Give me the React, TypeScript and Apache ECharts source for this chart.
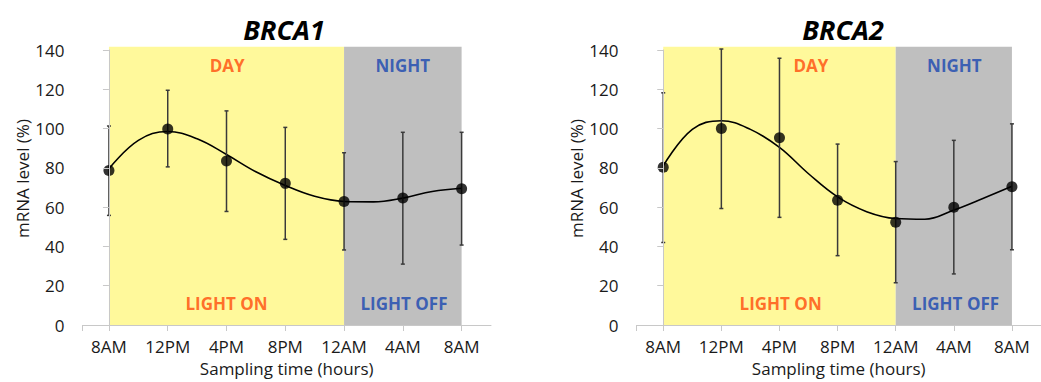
import React, { useEffect, useRef } from "react";
import * as echarts from "echarts";

const categories = ["8AM", "12PM", "4PM", "8PM", "12AM", "4AM", "8AM"];
const yTicks = [0, 20, 40, 60, 80, 100, 120, 140];

const brca1Mean = [78.6, 99.8, 83.5, 72.1, 62.9, 64.7, 69.4];
const brca1Low = [55.8, 80.5, 57.8, 43.6, 38.2, 31.0, 40.7];
const brca1High = [101.3, 119.5, 109.0, 100.6, 87.7, 98.1, 98.1];
const brca1TrendX = [0, 0.5, 1, 1.5, 2, 2.5, 3, 3.5, 4, 4.5, 5, 5.5, 6];
const brca1Trend = [79.6, 94.0, 98.5, 94.8, 86.8, 78.0, 71.0, 65.5, 62.9, 62.7, 64.6, 68.0, 69.6];

const brca2Mean = [80.3, 100.0, 95.3, 63.5, 52.3, 60.0, 70.4];
const brca2Low = [42.0, 59.3, 54.8, 35.3, 21.5, 26.0, 38.3];
const brca2High = [118.2, 140.5, 135.8, 92.1, 83.2, 94.0, 102.4];
const brca2TrendX = [0, 0.5, 1, 1.5, 2, 2.5, 3, 3.5, 4, 4.5, 5, 5.5, 6];
const brca2Trend = [81.0, 99.6, 104.0, 99.6, 90.4, 77.0, 65.2, 57.7, 54.2, 53.8, 58.5, 64.4, 70.6];

// background bands: [x start, x end, top value]
const bands = [
  [0, 4, 141.7],
  [4, 6, 141.7],
];
const bandColors = ["#fff99b", "#bfbfbf"];

const annots1 = [
  { text: "DAY", x: 2.01, y: 132.3, color: "#ff4a0a" },
  { text: "NIGHT", x: 5.0, y: 132.3, color: "#1846b0" },
  { text: "LIGHT ON", x: 2.0, y: 10.9, color: "#ff4a0a" },
  { text: "LIGHT OFF", x: 5.02, y: 10.9, color: "#1846b0" },
];
const annots2 = [
  { text: "DAY", x: 2.54, y: 132.3, color: "#ff4a0a" },
  { text: "NIGHT", x: 5.01, y: 132.3, color: "#1846b0" },
  { text: "LIGHT ON", x: 2.02, y: 10.9, color: "#ff4a0a" },
  { text: "LIGHT OFF", x: 5.03, y: 10.9, color: "#1846b0" },
];

const FONT = "'Open Sans', 'Noto Sans', sans-serif";
const TEXT = "#1a1a1a";
const AXIS = "#c8c8c8";

function buildChart(
  gi: number,
  mean: number[],
  low: number[],
  high: number[],
  trendX: number[],
  trend: number[],
  annots: { text: string; x: number; y: number; color: string }[]
) {
  const series: any[] = [];
  series.push({
    type: "custom",
    xAxisIndex: gi,
    yAxisIndex: gi,
    z: 1,
    silent: true,
    data: bands,
    renderItem: (params: any, api: any) => {
      const p0 = api.coord([api.value(0), 0]);
      const p1 = api.coord([api.value(1), api.value(2)]);
      return {
        type: "rect",
        shape: { x: p0[0], y: p1[1], width: p1[0] - p0[0], height: p0[1] - p1[1] },
        style: { fill: bandColors[params.dataIndex] },
      };
    },
  });
  series.push({
    type: "line",
    xAxisIndex: gi,
    yAxisIndex: gi,
    z: 3,
    smooth: 0.4,
    symbol: "none",
    lineStyle: { color: "#000", width: 1.6 },
    data: trendX.map((x, i) => [x, trend[i]]),
  });
  series.push({
    type: "custom",
    xAxisIndex: gi,
    yAxisIndex: gi,
    z: 4,
    data: mean.map((_, i) => [i, low[i], high[i]]),
    renderItem: (params: any, api: any) => {
      const x = api.value(0);
      const pTop = api.coord([x, api.value(2)]);
      const pBot = api.coord([x, api.value(1)]);
      const st = { stroke: "#3a3a3a", lineWidth: 1.5 };
      const cw = 2;
      return {
        type: "group",
        children: [
          { type: "line", shape: { x1: pTop[0], y1: pTop[1], x2: pBot[0], y2: pBot[1] }, style: st },
          { type: "line", shape: { x1: pTop[0] - cw, y1: pTop[1], x2: pTop[0] + cw, y2: pTop[1] }, style: st },
          { type: "line", shape: { x1: pBot[0] - cw, y1: pBot[1], x2: pBot[0] + cw, y2: pBot[1] }, style: st },
        ],
      };
    },
  });
  series.push({
    type: "scatter",
    xAxisIndex: gi,
    yAxisIndex: gi,
    z: 5,
    symbolSize: 11,
    itemStyle: { color: "#000" },
    data: mean.map((v, i) => [i, v]),
  });
  series.push({
    type: "scatter",
    xAxisIndex: gi,
    yAxisIndex: gi,
    z: 6,
    silent: true,
    symbolSize: 1,
    itemStyle: { color: "rgba(0,0,0,0)" },
    data: annots.map((a) => ({
      value: [a.x, a.y],
      name: a.text,
      label: {
        show: true,
        position: "inside",
        formatter: a.text,
        color: a.color,
        textBorderWidth: 0,
        fontFamily: FONT,
        fontWeight: "bold",
        fontSize: 17,
      },
    })),
  });
  return series;
}

function xAxisDef(gi: number, min: number) {
  return {
    type: "value",
    gridIndex: gi,
    min,
    max: 6.5,
    z: 10,
    splitLine: { show: false },
    axisLine: { show: true, lineStyle: { color: AXIS, width: 1 } },
    axisTick: {
      show: true,
      length: 6,
      lineStyle: { color: AXIS },
      customValues: [min, 0, 1, 2, 3, 4, 5, 6],
    },
    axisLabel: {
      customValues: [0, 1, 2, 3, 4, 5, 6],
      formatter: (v: number) => categories[Math.round(v)],
      color: TEXT,
      fontFamily: FONT,
      fontSize: 17,
      margin: 13,
    },
    name: "Sampling time (hours)",
    nameLocation: "middle",
    nameGap: 35,
    nameTextStyle: { color: TEXT, fontFamily: FONT, fontSize: 17 },
  };
}

function yAxisDef(gi: number) {
  return {
    type: "value",
    gridIndex: gi,
    min: yTicks[0],
    max: yTicks[yTicks.length - 1],
    interval: 20,
    z: 10,
    splitLine: { show: false },
    axisLine: { show: true, lineStyle: { color: AXIS, width: 1 } },
    axisTick: { show: true, length: 6, lineStyle: { color: AXIS } },
    axisLabel: { color: TEXT, fontFamily: FONT, fontSize: 17, margin: 18 },
    name: "mRNA level (%)",
    nameLocation: "middle",
    nameGap: 50,
    nameTextStyle: { color: TEXT, fontFamily: FONT, fontSize: 17, padding: [0, 0, 0, 18] },
  };
}

export default function App() {
  const ref = useRef<HTMLDivElement>(null);
  useEffect(() => {
    if (!ref.current) return;
    const chart = echarts.init(ref.current, undefined, { renderer: "svg" });
    chart.setOption({
      animation: false,
      backgroundColor: "#ffffff",
      title: [
        {
          text: "BRCA1",
          left: 279,
          top: 11,
          textAlign: "center",
          textStyle: { fontFamily: FONT, fontSize: 27, fontWeight: "bold", fontStyle: "italic", color: "#000" },
        },
        {
          text: "BRCA2",
          left: 838,
          top: 11,
          textAlign: "center",
          textStyle: { fontFamily: FONT, fontSize: 27, fontWeight: "bold", fontStyle: "italic", color: "#000" },
        },
      ],
      grid: [
        { left: 82.5, top: 50, width: 408.5, height: 278.3 },
        { left: 636.5, top: 50, width: 409.5, height: 277.8 },
      ],
      xAxis: [xAxisDef(0, -0.45), xAxisDef(1, -0.46)],
      yAxis: [yAxisDef(0), yAxisDef(1)],
      series: [
        ...buildChart(0, brca1Mean, brca1Low, brca1High, brca1TrendX, brca1Trend, annots1),
        ...buildChart(1, brca2Mean, brca2Low, brca2High, brca2TrendX, brca2Trend, annots2),
      ],
    });
    return () => chart.dispose();
  }, []);
  return (
    <div
      ref={ref}
      style={{ position: "fixed", left: 0, top: 0, width: 1041, height: 382, background: "#fff" }}
    />
  );
}
